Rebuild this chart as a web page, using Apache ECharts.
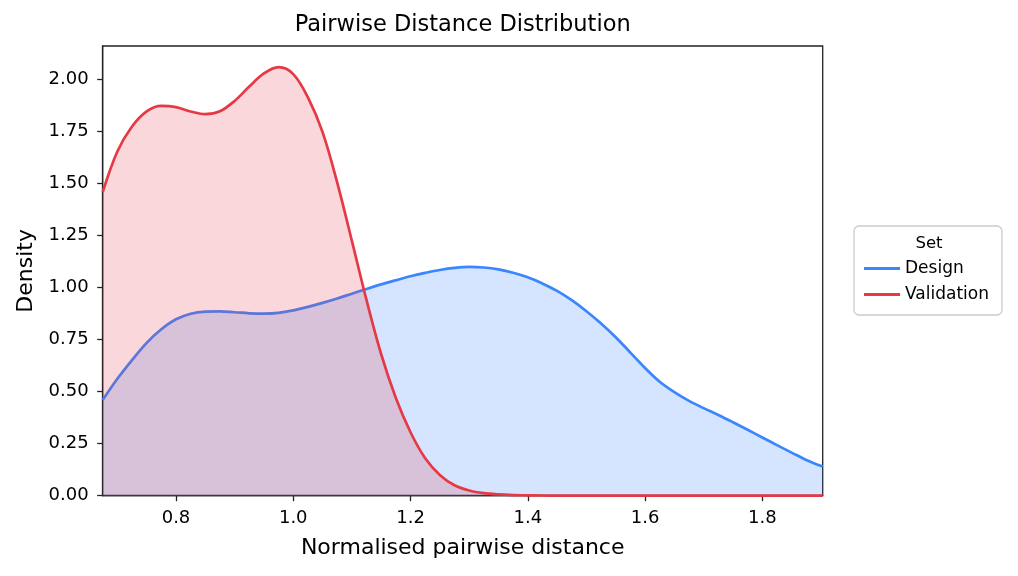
<!DOCTYPE html>
<html>
<head>
<meta charset="utf-8">
<title>Pairwise Distance Distribution</title>
<script src="https://cdn.jsdelivr.net/npm/echarts@6/dist/echarts.min.js"></script>
<style>
  html, body { margin: 0; padding: 0; background: #fff; }
  #chart { width: 1018px; height: 576px; }
</style>
</head>
<body>
<div id="chart"></div>
<script>
// KDE curves (x = normalised pairwise distance)
const xs = [0.675, 0.7, 0.725, 0.75, 0.775, 0.8, 0.825, 0.85, 0.875, 0.9, 0.925, 0.95, 0.975, 1.0,
  1.025, 1.05, 1.075, 1.1, 1.125, 1.15, 1.175, 1.2, 1.225, 1.25, 1.275, 1.3, 1.325, 1.35, 1.375, 1.4,
  1.425, 1.45, 1.475, 1.5, 1.525, 1.55, 1.575, 1.6, 1.625, 1.65, 1.675, 1.7, 1.725, 1.75, 1.775, 1.8,
  1.825, 1.85, 1.875, 1.903];
const design = [0.46, 0.562, 0.652, 0.735, 0.8, 0.848, 0.875, 0.885, 0.886, 0.882, 0.877, 0.875, 0.879, 0.891,
  0.908, 0.927, 0.948, 0.971, 0.994, 1.016, 1.036, 1.055, 1.071, 1.085, 1.095, 1.1, 1.097, 1.088, 1.072, 1.05,
  1.02, 0.985, 0.94, 0.887, 0.828, 0.762, 0.688, 0.614, 0.548, 0.498, 0.456, 0.421, 0.388, 0.353, 0.317, 0.28,
  0.243, 0.207, 0.172, 0.14];
const validation = [1.46, 1.655, 1.775, 1.848, 1.874, 1.868, 1.847, 1.834, 1.848, 1.898, 1.967, 2.03, 2.06, 2.027,
  1.915, 1.748, 1.505, 1.225, 0.94, 0.68, 0.47, 0.305, 0.18, 0.1, 0.05, 0.025, 0.012, 0.006, 0.003, 0.002,
  0.001, 0.0005, 0, 0, 0, 0, 0, 0, 0, 0, 0, 0, 0, 0, 0, 0,
  0, 0, 0, 0];
const xTicks = [0.8, 1.0, 1.2, 1.4, 1.6, 1.8];
const yTicks = [0, 0.25, 0.5, 0.75, 1.0, 1.25, 1.5, 1.75, 2.0];

const FONT = '"DejaVu Sans", sans-serif';
const pairs = ys => xs.map((x, i) => [x, ys[i]]);

const chart = echarts.init(document.getElementById('chart'));

const axisCommon = {
  axisLine: { show: true, onZero: false, lineStyle: { color: '#222', width: 1.3 } },
  axisTick: { show: true, inside: false, length: 5.5, lineStyle: { color: '#222', width: 1.3 } },
  splitLine: { show: false },
  nameTextStyle: { color: '#000', fontSize: 22, fontFamily: FONT }
};

chart.setOption({
  animation: false,
  backgroundColor: '#fff',
  grid: {
    left: 102.7, right: 195.3, top: 46, bottom: 80.3,
    show: true, borderColor: '#222', borderWidth: 1.3, backgroundColor: 'transparent'
  },
  graphic: [
    {
      type: 'text', x: 462.7, y: 25, z: 100,
      style: {
        text: 'Pairwise Distance Distribution', fill: '#000',
        font: '22.5px ' + FONT, textAlign: 'center', textVerticalAlign: 'middle'
      }
    },
    {
      type: 'text', x: 929, y: 244, z: 100,
      style: { text: 'Set', fill: '#000', font: '16.5px ' + FONT, textAlign: 'center', textVerticalAlign: 'middle' }
    }
  ],
  legend: {
    orient: 'vertical',
    left: 854, top: 226,
    padding: [34, 13, 12, 10],
    borderColor: '#ccc', borderWidth: 1.3, borderRadius: 5,
    backgroundColor: 'transparent',
    icon: 'rect', itemWidth: 36, itemHeight: 3, itemGap: 9, itemTextGap: 10,
    textStyle: { color: '#000', fontSize: 17, fontFamily: FONT },
    data: ['Design', 'Validation']
  },
  xAxis: Object.assign({}, axisCommon, {
    type: 'value', min: 0.675, max: 1.903,
    name: 'Normalised pairwise distance', nameLocation: 'middle', nameGap: 42,
    axisTick: Object.assign({}, axisCommon.axisTick, { customValues: xTicks }),
    axisLabel: {
      customValues: xTicks, color: '#000', fontSize: 18, fontFamily: FONT, margin: 14,
      formatter: v => v.toFixed(1)
    }
  }),
  yAxis: Object.assign({}, axisCommon, {
    type: 'value', min: 0, max: 2.162,
    name: 'Density', nameLocation: 'middle', nameGap: 65,
    axisTick: Object.assign({}, axisCommon.axisTick, { customValues: yTicks }),
    axisLabel: {
      customValues: yTicks, color: '#000', fontSize: 18, fontFamily: FONT, margin: 14,
      formatter: v => v.toFixed(2)
    }
  }),
  series: [
    {
      name: 'Design', type: 'line', data: pairs(design),
      smooth: 0.35, showSymbol: false, symbol: 'none', clip: true,
      lineStyle: { color: '#3a86ff', width: 2.7 },
      itemStyle: { color: '#3a86ff' },
      areaStyle: { color: 'rgba(58,134,255,0.21)', opacity: 1, origin: 'start' },
      z: 2
    },
    {
      name: 'Validation', type: 'line', data: pairs(validation),
      smooth: 0.35, showSymbol: false, symbol: 'none', clip: true,
      lineStyle: { color: '#e63946', width: 2.7 },
      itemStyle: { color: '#e63946' },
      areaStyle: { color: 'rgba(230,57,70,0.2)', opacity: 1, origin: 'start' },
      z: 3
    }
  ]
});
</script>
</body>
</html>
